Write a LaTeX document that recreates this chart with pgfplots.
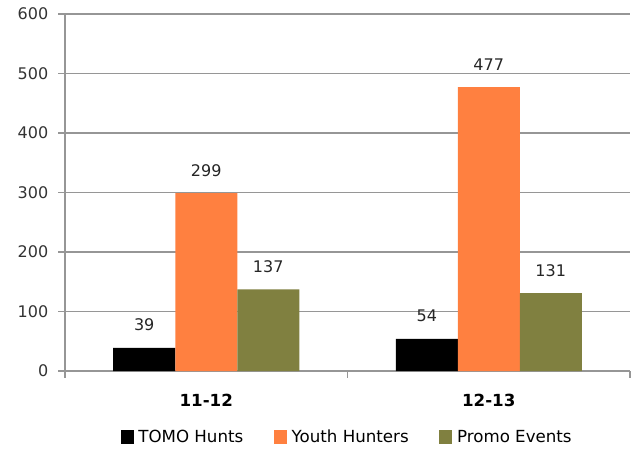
\documentclass[border=0pt]{standalone}
\usepackage{pgfplots}
\pgfplotsset{compat=1.18}
\usepackage{fontspec}
\setmainfont{DejaVu Sans}
\definecolor{cOrange}{RGB}{255,128,64}
\definecolor{cOlive}{RGB}{128,128,64}
\definecolor{cGrid}{RGB}{150,150,150}
\begin{document}
\begin{tikzpicture}
\begin{axis}[
  name=ax,
  at={(0,0)}, anchor=south west,
  scale only axis, width=423.75pt, height=267.75pt,
  ybar=0pt, bar width=46.5pt,
  xmin=-0.5, xmax=1.5, ymin=0, ymax=600,
  xtick={0,1}, xticklabels={11-12,12-13},
  minor xtick={-0.5,0.5,1.5},
  ytick={0,100,...,600},
  axis x line=bottom, axis y line=left,
  axis line style={-, draw=cGrid, line width=0.9pt},
  ymajorgrids, major grid style={draw=cGrid, line width=0.9pt},
  tick align=outside,
  major tick length=5pt, minor tick length=5pt,
  major x tick style={draw=none},
  minor x tick style={draw=cGrid, line width=0.9pt},
  ytick style={draw=cGrid, line width=0.9pt},
  /pgf/number format/assume math mode=true,
  yticklabel style={font=\fontsize{12}{14}\selectfont, text=black!80, xshift=-4pt},
  xticklabel style={font=\bfseries\fontsize{12.5}{14}\selectfont, yshift=-9pt},
  nodes near coords,
  every node near coord/.append style={font=\fontsize{12}{14}\selectfont, anchor=center, yshift=17pt, text=black!85},
  legend style={draw=none, at={(0.5,0)}, anchor=center, yshift=-49.5pt,
    legend columns=3, font=\fontsize{12.5}{14}\selectfont,
    /tikz/every even column/.append style={column sep=21pt}},
  legend image code/.code={\fill[#1] (0pt,-4.9pt) rectangle (9.75pt,4.9pt); \path (11.25pt,0pt);},
  clip=false,
]
\addplot[fill=black, draw=none] coordinates {(0,39) (1,54)};
\addplot[fill=cOrange, draw=none] coordinates {(0,299) (1,477)};
\addplot[fill=cOlive, draw=none] coordinates {(0,137) (1,131)};
\legend{TOMO Hunts, Youth Hunters, Promo Events}
\end{axis}
\pgfresetboundingbox
\path[use as bounding box] ([shift={(-48.75pt,-60pt)}]ax.south west) rectangle ([shift={(424.5pt,278.25pt)}]ax.south west);
\end{tikzpicture}
\end{document}
